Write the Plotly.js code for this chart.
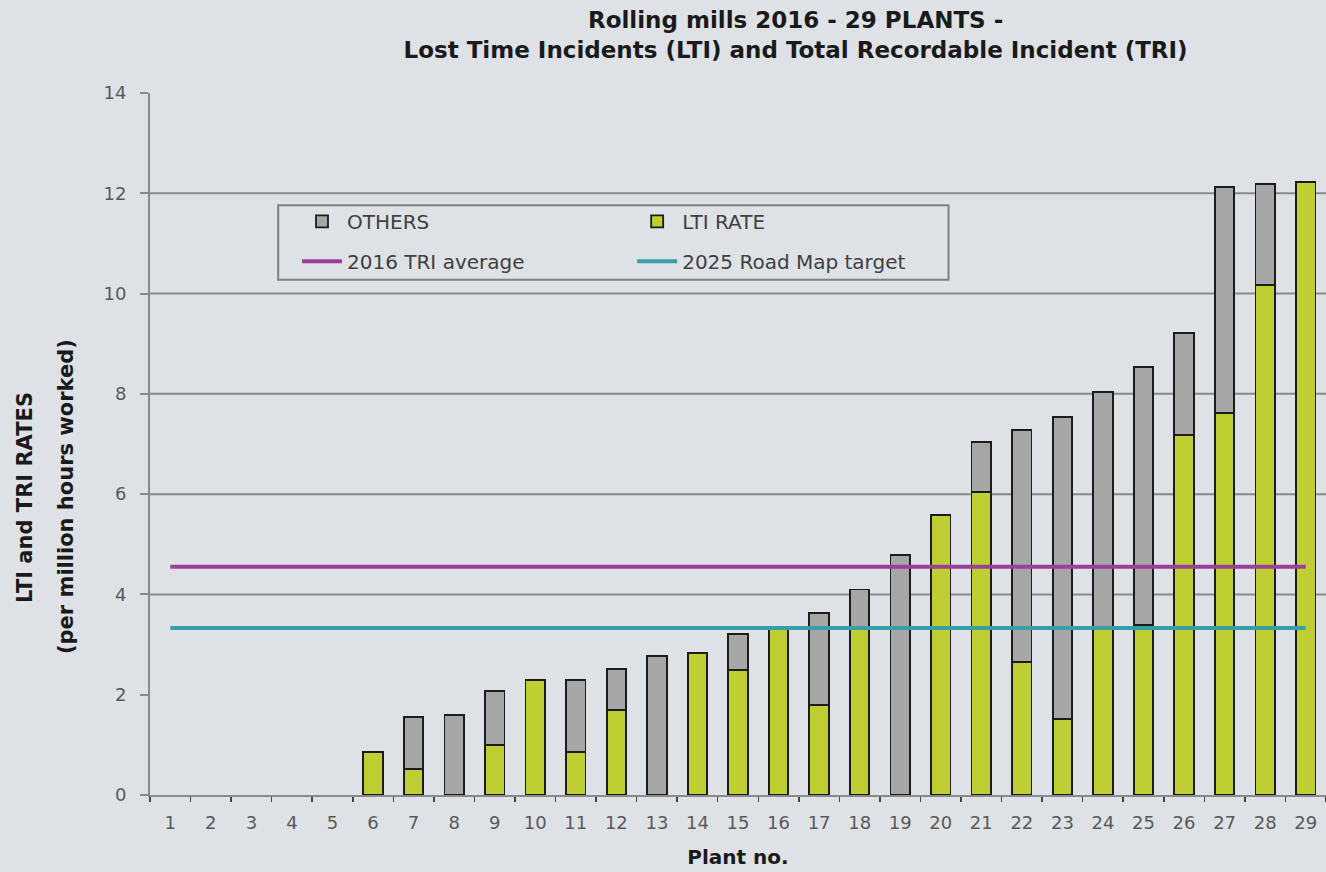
<!DOCTYPE html>
<html>
<head>
<meta charset="utf-8">
<script src="https://cdn.plot.ly/plotly-3.0.1.min.js"></script>
<style>
  html, body { margin: 0; padding: 0; background: #dee2e6; }
  #chart { width: 1326px; height: 872px; }
</style>
</head>
<body>
<div id="chart"></div>
<script>
// ---- data ----
const plants = ['1','2','3','4','5','6','7','8','9','10','11','12','13','14','15','16','17','18','19','20','21','22','23','24','25','26','27','28','29'];
const ltiRate = [null,null,null,null,null,0.86,0.52,null,1.00,2.29,0.86,1.70,null,2.83,2.49,3.35,1.79,3.30,null,5.58,6.05,2.65,1.52,3.33,3.39,7.18,7.62,10.17,12.23];
const others  = [null,null,null,null,null,null,1.03,1.60,1.07,null,1.43,0.81,2.77,null,0.72,null,1.84,0.80,4.79,null,0.99,4.63,6.02,4.71,5.15,2.03,4.51,2.02,null];
const triAvgX = ['1','29'];
const triAvgY = [4.55, 4.55];
const targetX = ['1','29'];
const targetY = [3.33, 3.33];
const yTickVals = [0,2,4,6,8,10,12,14];
const gridVals = [4,6,8,10,12];
const yTitleLines = ['LTI and TRI RATES', '(per million hours worked)'];

const FONT = '"DejaVu Sans", "Open Sans", sans-serif';

const traces = [
  {
    type: 'bar', name: 'LTI RATE', x: plants, y: ltiRate,
    marker: { color: '#bfcf33', line: { color: '#1c1c1c', width: 1.8 } },
    legend: 'legend2', legendgroup: 'g2', legendrank: 1
  },
  {
    type: 'bar', name: 'OTHERS', x: plants, y: others,
    marker: { color: '#a6a6a6', line: { color: '#1c1c1c', width: 1.8 } },
    legend: 'legend', legendgroup: 'g1', legendrank: 1
  },
  {
    type: 'scatter', mode: 'lines', name: '2016 TRI average', x: triAvgX, y: triAvgY,
    line: { color: '#9b3f98', width: 4 },
    legend: 'legend', legendgroup: 'g3', legendrank: 2
  },
  {
    type: 'scatter', mode: 'lines', name: '2025 Road Map target', x: targetX, y: targetY,
    line: { color: '#3a9ea9', width: 4 },
    legend: 'legend2', legendgroup: 'g4', legendrank: 2
  }
];

const shapes = gridVals.map(v => ({
  type: 'line', xref: 'paper', x0: 0, x1: 1, yref: 'y', y0: v, y1: v,
  line: { color: '#8a8a8a', width: 2 }, layer: 'below'
}));
shapes.push({
  type: 'rect', xref: 'paper', yref: 'paper',
  x0: 0.109, x1: 0.679, y0: 0.734, y1: 0.840,
  line: { color: '#7f7f7f', width: 2 }, fillcolor: 'rgba(0,0,0,0)', layer: 'above'
});

const yTitleX = [-0.1063, -0.0714];
const annotations = yTitleLines.map((t, i) => ({
  text: '<b>' + t + '</b>', xref: 'paper', yref: 'paper', x: yTitleX[i], y: 0.4245,
  xanchor: 'center', yanchor: 'middle', textangle: -90, showarrow: false,
  font: { family: FONT, size: 21, color: '#1a1a1a' }
}));

const legendCommon = {
  orientation: 'v', bgcolor: 'rgba(0,0,0,0)', borderwidth: 0,
  font: { family: FONT, size: 20, color: '#404040' },
  xanchor: 'left', yanchor: 'top', tracegroupgap: 11, itemwidth: 40
};

const layout = {
  width: 1326, height: 872,
  paper_bgcolor: '#dee2e6', plot_bgcolor: '#dee2e6',
  margin: { l: 150, r: 0, t: 93, b: 77 },
  barmode: 'stack', bargap: 0.52,
  font: { family: FONT, color: '#404040' },
  title: {
    text: '<b>Rolling mills 2016 - 29 PLANTS -<br>Lost Time Incidents (LTI) and Total Recordable Incident (TRI)</b>',
    font: { family: FONT, size: 23, color: '#1a1a1a' },
    x: 0.6, xref: 'container', xanchor: 'center', y: 0.968, yref: 'container', yanchor: 'top'
  },
  xaxis: {
    type: 'category', showgrid: false, tickson: 'boundaries',
    ticks: 'outside', ticklen: 5, tickcolor: '#444', tickwidth: 1.5,
    showline: true, linecolor: '#8a8a8a', linewidth: 2,
    ticklabelstandoff: 10,
    tickfont: { family: FONT, size: 18, color: '#595959' },
    title: { text: '<b>Plant no.</b>', font: { family: FONT, size: 20, color: '#1a1a1a' }, standoff: 18 }
  },
  yaxis: {
    range: [0, 14], tickvals: yTickVals, showgrid: false, zeroline: false,
    ticks: 'outside', ticklen: 8, tickcolor: '#8a8a8a', tickwidth: 2,
    showline: true, linecolor: '#8a8a8a', linewidth: 2,
    ticklabelstandoff: 10,
    tickfont: { family: FONT, size: 18, color: '#595959' }
  },
  legend: Object.assign({}, legendCommon, { x: 0.125, y: 0.845 }),
  legend2: Object.assign({}, legendCommon, { x: 0.41, y: 0.845 }),
  shapes: shapes,
  annotations: annotations,
  showlegend: true
};

Plotly.newPlot('chart', traces, layout, { displayModeBar: false, staticPlot: true });
</script>
</body>
</html>
